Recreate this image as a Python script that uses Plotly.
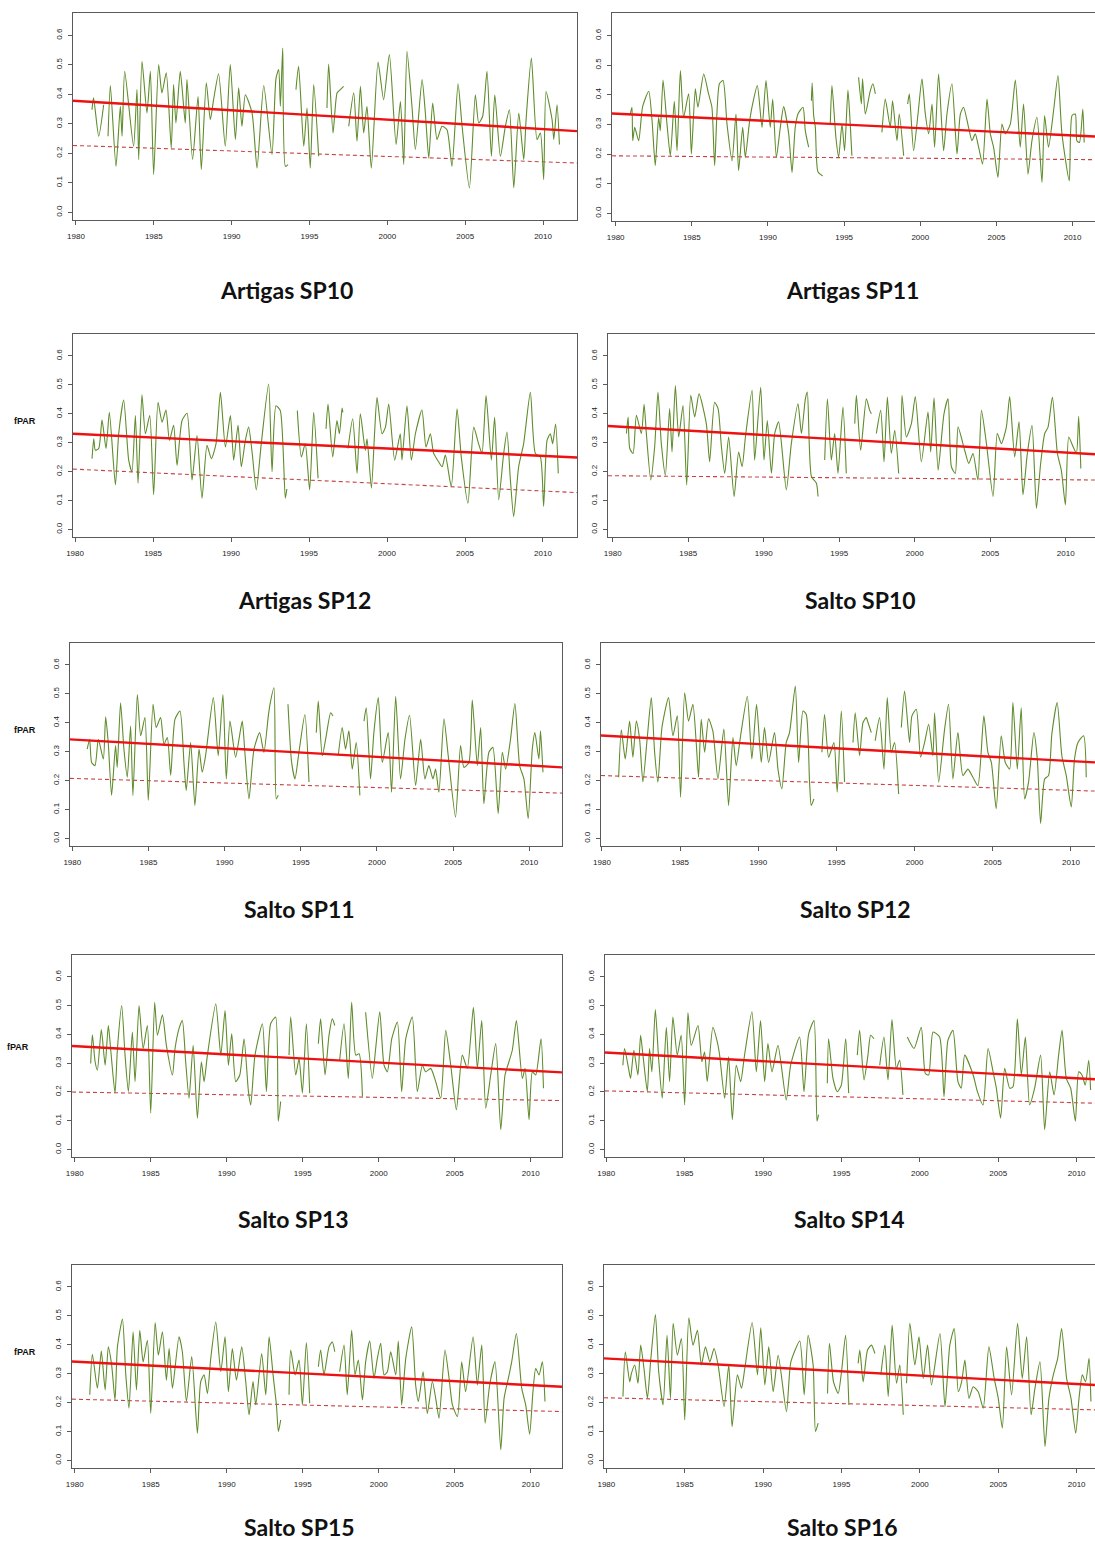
import plotly.graph_objects as go

# ---------------- data ----------------
titles = ["Artigas SP10", "Artigas SP11", "Artigas SP12", "Salto SP10", "Salto SP11",
          "Salto SP12", "Salto SP13", "Salto SP14", "Salto SP15", "Salto SP16"]
x_tick_years = [1980, 1985, 1990, 1995, 2000, 2005, 2010]
y_tick_values = [0.0, 0.1, 0.2, 0.3, 0.4, 0.5, 0.6]
y_tick_labels = ["0.0", "0.1", "0.2", "0.3", "0.4", "0.5", "0.6"]
y_label = "fPAR"

# linear trends (solid) and lower reference trend (dashed), value at 1980 and 2012
trend_solid_1980 = [0.378, 0.3364, 0.3305, 0.357, 0.3423, 0.3562, 0.359, 0.3367, 0.3416, 0.3526]
trend_solid_2012 = [0.276, 0.2577, 0.2495, 0.260, 0.2463, 0.2617, 0.2681, 0.2416, 0.2552, 0.2585]
trend_dash_1980 = [0.2265, 0.1939, 0.2085, 0.1859, 0.2077, 0.2176, 0.1997, 0.2038, 0.2118, 0.2168]
trend_dash_2012 = [0.1675, 0.1808, 0.128, 0.171, 0.1571, 0.1632, 0.1701, 0.1598, 0.1692, 0.1739]

p1_year = [1981.03, 1981.13, 1981.46, 1981.78, None, 1982.06, 1982.21, 1982.57, 1982.85, 1982.96, 1983.13, 1983.70, 1983.92, 1984.03, 1984.24, 1984.56, 1984.78, 1984.99, 1985.31, 1985.52, 1985.80, 1986.12, 1986.27, 1986.42, 1986.70, 1987.02, 1987.13, 1987.49, 1987.84, 1988.05, 1988.37, 1988.63, 1988.84, 1989.16, 1989.59, 1989.91, 1990.24, 1990.45, 1990.66, 1990.88, 1991.31, 1991.63, 1992.06, 1992.59, 1992.85, 1993.02, 1993.13, 1993.28, 1993.45, 1993.62, None, 1994.13, 1994.30, 1994.63, 1994.84, 1995.05, 1995.27, 1995.59, None, 1996.12, 1996.23, 1996.51, 1996.77, 1996.98, 1997.19, None, 1997.52, 1997.84, 1998.05, 1998.27, 1998.48, 1998.69, 1998.97, 1999.40, 1999.76, 2000.13, 2000.56, 2000.84, 2001.05, 2001.26, 2001.58, 2001.80, 2002.23, 2002.44, 2002.66, 2002.91, 2003.19, 2003.51, 2003.83, 2004.15, 2004.54, 2004.80, 2005.27, 2005.65, 2005.87, 2006.12, 2006.40, 2006.68, 2006.90, 2007.26, 2007.58, 2007.84, 2008.12, 2008.44, 2008.76, 2008.91, 2009.25, 2009.61, 2009.83, 2010.04, 2010.19, 2010.58, 2010.69, 2010.90, 2011.05]
p1_fpar = [0.348, 0.388, 0.258, 0.365, None, 0.258, 0.430, 0.156, 0.360, 0.258, 0.478, 0.224, 0.416, 0.179, 0.512, 0.337, 0.478, 0.128, 0.501, 0.405, 0.473, 0.218, 0.433, 0.303, 0.478, 0.303, 0.450, 0.179, 0.393, 0.145, 0.439, 0.314, 0.382, 0.470, 0.224, 0.501, 0.247, 0.422, 0.292, 0.399, 0.337, 0.150, 0.430, 0.196, 0.455, 0.484, 0.360, 0.557, 0.156, 0.162, None, 0.416, 0.495, 0.224, 0.354, 0.150, 0.433, 0.190, None, 0.354, 0.503, 0.269, 0.405, 0.416, 0.427, None, 0.292, 0.405, 0.241, 0.427, 0.269, 0.360, 0.150, 0.510, 0.382, 0.535, 0.230, 0.376, 0.162, 0.546, 0.360, 0.213, 0.450, 0.337, 0.184, 0.371, 0.247, 0.292, 0.280, 0.156, 0.436, 0.292, 0.083, 0.399, 0.303, 0.326, 0.478, 0.190, 0.399, 0.190, 0.292, 0.348, 0.083, 0.337, 0.179, 0.314, 0.523, 0.247, 0.269, 0.111, 0.410, 0.314, 0.247, 0.365, 0.230]

p2_year = [1980.96, 1981.07, 1981.12, 1981.25, 1981.51, 1981.77, 1982.17, 1982.39, 1982.60, 1982.82, 1982.93, 1983.11, 1983.37, 1983.59, 1983.85, 1984.03, 1984.25, 1984.46, 1984.79, 1984.97, 1985.23, 1985.40, 1985.78, 1986.10, 1986.32, 1986.50, 1986.81, 1987.05, 1987.31, 1987.64, 1987.90, 1988.07, 1988.34, 1988.51, 1988.77, 1988.95, 1989.30, 1989.61, 1989.87, 1990.15, 1990.31, 1990.55, 1990.81, 1991.03, 1991.36, 1991.58, 1991.79, 1991.97, 1992.30, 1992.45, 1992.67, None, 1992.85, 1992.90, 1993.00, 1993.11, 1993.28, 1993.59, None, 1994.09, 1994.20, 1994.46, 1994.64, 1994.86, 1995.03, 1995.25, 1995.40, 1995.51, None, 1995.95, 1996.13, 1996.21, 1996.39, 1996.72, 1996.89, 1997.05, None, 1997.48, 1997.70, 1998.03, 1998.18, 1998.47, 1998.62, 1998.91, None, 1999.17, 1999.28, 1999.56, 1999.85, 2000.11, 2000.33, 2000.55, 2000.77, 2000.94, 2001.20, 2001.53, 2001.75, 2002.08, 2002.41, 2002.63, 2002.84, 2003.17, 2003.39, 2003.61, 2003.83, 2004.09, 2004.38, 2004.60, 2004.81, 2005.10, 2005.36, 2005.58, 2005.91, 2006.24, 2006.56, 2006.78, 2007.07, 2007.33, 2007.66, 2007.99, 2008.16, 2008.42, 2008.75, 2009.04, 2009.30, 2009.78, 2009.96, 2010.18, 2010.28, 2010.45, 2010.67, 2010.76]
p2_fpar = [0.335, 0.358, 0.245, 0.290, 0.245, 0.360, 0.412, 0.313, 0.161, 0.324, 0.279, 0.450, 0.301, 0.194, 0.378, 0.211, 0.482, 0.324, 0.403, 0.200, 0.420, 0.358, 0.470, 0.403, 0.358, 0.161, 0.437, 0.448, 0.301, 0.177, 0.335, 0.144, 0.290, 0.189, 0.301, 0.358, 0.431, 0.290, 0.448, 0.290, 0.386, 0.189, 0.290, 0.360, 0.268, 0.138, 0.290, 0.335, 0.358, 0.279, 0.223, None, 0.380, 0.440, 0.330, 0.290, 0.140, 0.126, None, 0.301, 0.431, 0.256, 0.189, 0.301, 0.211, 0.416, 0.301, 0.194, None, 0.459, 0.369, 0.454, 0.335, 0.414, 0.437, 0.403, None, 0.273, 0.386, 0.290, 0.380, 0.245, 0.335, 0.194, None, 0.369, 0.403, 0.211, 0.335, 0.454, 0.335, 0.268, 0.369, 0.223, 0.470, 0.211, 0.335, 0.437, 0.200, 0.335, 0.358, 0.290, 0.245, 0.268, 0.223, 0.166, 0.386, 0.268, 0.223, 0.121, 0.301, 0.268, 0.301, 0.450, 0.223, 0.369, 0.132, 0.245, 0.324, 0.104, 0.330, 0.223, 0.346, 0.465, 0.268, 0.110, 0.330, 0.335, 0.245, 0.239, 0.352, 0.239]

p3_year = [1981.09, 1981.20, 1981.30, 1981.52, 1981.73, 1981.99, 1982.20, 1982.59, 1982.80, 1983.12, 1983.44, 1983.65, 1983.87, 1984.04, 1984.29, 1984.51, 1984.79, 1985.04, 1985.32, 1985.58, 1985.83, 1986.05, 1986.32, 1986.54, 1986.86, 1987.18, 1987.50, 1987.82, 1988.14, 1988.46, 1988.74, 1989.04, 1989.32, 1989.64, 1989.96, 1990.17, 1990.45, 1990.66, 1990.92, 1991.13, 1991.35, 1991.62, 1991.94, 1992.41, 1992.63, 1992.88, 1993.16, 1993.48, 1993.58, None, 1994.25, 1994.51, 1994.76, 1995.04, 1995.30, 1995.58, None, 1996.09, 1996.22, 1996.52, 1996.79, 1996.95, 1997.12, 1997.17, None, 1997.50, 1997.80, 1998.08, 1998.29, 1998.61, 1998.72, 1999.00, 1999.21, 1999.36, 1999.68, 1999.90, 2000.11, 2000.49, 2000.85, 2000.96, 2001.28, 2001.56, 2001.82, 2002.24, 2002.50, 2002.78, 2002.99, 2003.31, 2003.53, 2003.74, 2004.12, 2004.49, 2004.76, 2005.19, 2005.56, 2005.87, 2006.09, 2006.35, 2006.69, 2006.90, 2007.16, 2007.48, 2007.69, 2007.91, 2008.12, 2008.44, 2008.76, 2009.19, 2009.51, 2009.83, 2010.04, 2010.26, 2010.47, 2010.62, 2010.81, 2010.98]
p3_fpar = [0.245, 0.314, 0.274, 0.280, 0.379, 0.280, 0.405, 0.154, 0.331, 0.448, 0.240, 0.200, 0.394, 0.160, 0.466, 0.331, 0.394, 0.120, 0.440, 0.371, 0.413, 0.308, 0.360, 0.222, 0.377, 0.402, 0.171, 0.325, 0.108, 0.291, 0.245, 0.297, 0.474, 0.285, 0.394, 0.240, 0.360, 0.217, 0.308, 0.354, 0.268, 0.137, 0.297, 0.503, 0.200, 0.428, 0.411, 0.108, 0.140, None, 0.411, 0.251, 0.297, 0.137, 0.405, 0.177, None, 0.348, 0.434, 0.251, 0.377, 0.331, 0.420, 0.405, None, 0.280, 0.383, 0.194, 0.400, 0.274, 0.314, 0.143, 0.340, 0.457, 0.331, 0.354, 0.434, 0.240, 0.331, 0.240, 0.428, 0.240, 0.331, 0.413, 0.285, 0.331, 0.263, 0.234, 0.217, 0.257, 0.148, 0.417, 0.251, 0.091, 0.354, 0.297, 0.263, 0.463, 0.240, 0.388, 0.103, 0.263, 0.337, 0.171, 0.045, 0.217, 0.297, 0.474, 0.263, 0.251, 0.080, 0.308, 0.331, 0.297, 0.365, 0.194]

p4_year = [1980.91, 1981.02, 1981.13, 1981.35, 1981.57, 1981.90, 1982.08, 1982.23, 1982.52, 1982.78, 1983.00, 1983.22, 1983.49, 1983.77, 1983.93, 1984.15, 1984.37, 1984.66, 1984.90, 1985.17, 1985.43, 1985.72, 1986.20, 1986.42, 1986.75, 1986.98, 1987.20, 1987.42, 1987.68, 1988.04, 1988.34, 1988.57, 1988.79, 1989.23, 1989.40, 1989.80, 1990.02, 1990.24, 1990.51, 1990.73, 1990.99, 1991.50, 1991.83, 1992.27, 1992.50, 1992.76, 1992.89, 1993.16, 1993.49, 1993.60, None, 1994.04, 1994.22, 1994.48, 1994.70, 1994.92, 1995.25, 1995.47, None, 1996.03, 1996.14, 1996.42, 1996.80, 1997.02, 1997.13, None, 1997.46, 1997.75, 1997.97, 1998.19, 1998.45, 1998.68, 1998.94, None, 1999.10, 1999.16, 1999.45, 1999.78, 2000.04, 2000.44, 2000.88, 2001.06, 2001.28, 2001.55, 2001.94, 2002.21, 2002.43, 2002.69, 2002.87, 2003.31, 2003.58, 2003.86, 2004.19, 2004.42, 2004.75, 2005.19, 2005.47, 2005.74, 2006.07, 2006.29, 2006.62, 2006.91, 2007.17, 2007.46, 2007.77, 2008.06, 2008.34, 2008.61, 2008.83, 2009.12, 2009.45, 2009.71, 2009.98, 2010.20, 2010.49, 2010.71, 2010.86, 2011.00]
p4_fpar = [0.332, 0.389, 0.280, 0.263, 0.395, 0.332, 0.433, 0.332, 0.171, 0.286, 0.475, 0.297, 0.188, 0.418, 0.268, 0.498, 0.320, 0.429, 0.154, 0.464, 0.389, 0.469, 0.366, 0.234, 0.440, 0.418, 0.286, 0.194, 0.320, 0.114, 0.268, 0.217, 0.320, 0.481, 0.240, 0.492, 0.240, 0.377, 0.194, 0.332, 0.372, 0.137, 0.297, 0.435, 0.332, 0.452, 0.475, 0.183, 0.160, 0.114, None, 0.240, 0.452, 0.240, 0.332, 0.194, 0.423, 0.194, None, 0.366, 0.464, 0.274, 0.452, 0.412, 0.400, None, 0.332, 0.412, 0.234, 0.458, 0.263, 0.343, 0.194, None, 0.300, 0.464, 0.320, 0.366, 0.460, 0.234, 0.406, 0.268, 0.455, 0.205, 0.400, 0.452, 0.217, 0.194, 0.354, 0.274, 0.228, 0.263, 0.171, 0.412, 0.297, 0.114, 0.332, 0.297, 0.354, 0.460, 0.251, 0.372, 0.120, 0.263, 0.360, 0.073, 0.228, 0.332, 0.354, 0.458, 0.263, 0.205, 0.085, 0.320, 0.286, 0.263, 0.391, 0.211]

p5_year = [1980.98, 1981.14, 1981.27, 1981.49, 1981.71, 1982.04, 1982.19, 1982.36, 1982.58, 1982.84, 1982.95, 1983.17, 1983.39, 1983.61, 1983.83, 1983.98, 1984.27, 1984.49, 1984.77, 1984.99, 1985.30, 1985.51, 1985.80, 1986.02, 1986.24, 1986.46, 1986.74, 1987.07, 1987.33, 1987.48, 1987.77, 1988.05, 1988.32, 1988.53, 1988.75, 1989.26, 1989.58, 1989.89, 1990.11, 1990.35, 1990.72, 1990.98, 1991.16, 1991.33, 1991.60, 1991.93, 1992.30, 1992.58, 1992.87, 1992.98, 1993.24, 1993.39, 1993.52, None, 1994.16, 1994.40, 1994.62, 1994.88, 1995.27, 1995.54, None, 1996.02, 1996.15, 1996.41, 1996.67, 1996.96, 1997.11, None, 1997.46, 1997.72, 1997.94, 1998.16, 1998.38, 1998.64, 1998.88, None, 1999.15, 1999.30, 1999.58, 1999.80, 2000.09, 2000.35, 2000.74, 2000.96, 2001.23, 2001.55, 2001.84, 2002.14, 2002.54, 2002.87, 2003.15, 2003.41, 2003.68, 2003.85, 2004.07, 2004.40, 2004.68, 2005.16, 2005.49, 2005.71, 2006.04, 2006.26, 2006.59, 2006.81, 2007.02, 2007.35, 2007.61, 2007.96, 2008.23, 2008.45, 2008.77, 2009.06, 2009.37, 2009.65, 2009.93, 2010.20, 2010.37, 2010.63, 2010.74, 2010.90]
p5_fpar = [0.309, 0.343, 0.263, 0.252, 0.343, 0.275, 0.421, 0.332, 0.149, 0.321, 0.246, 0.469, 0.309, 0.212, 0.389, 0.149, 0.498, 0.355, 0.418, 0.132, 0.464, 0.384, 0.418, 0.326, 0.349, 0.218, 0.412, 0.441, 0.263, 0.166, 0.332, 0.114, 0.309, 0.229, 0.286, 0.487, 0.286, 0.498, 0.206, 0.406, 0.281, 0.355, 0.406, 0.298, 0.137, 0.309, 0.366, 0.298, 0.424, 0.464, 0.521, 0.137, 0.150, None, 0.464, 0.263, 0.206, 0.298, 0.429, 0.195, None, 0.366, 0.475, 0.286, 0.355, 0.435, 0.424, None, 0.286, 0.384, 0.309, 0.372, 0.240, 0.332, 0.149, None, 0.406, 0.452, 0.206, 0.366, 0.487, 0.263, 0.366, 0.160, 0.492, 0.206, 0.343, 0.426, 0.183, 0.343, 0.206, 0.252, 0.206, 0.240, 0.160, 0.414, 0.286, 0.074, 0.321, 0.246, 0.263, 0.479, 0.252, 0.384, 0.120, 0.298, 0.315, 0.086, 0.298, 0.240, 0.343, 0.467, 0.252, 0.206, 0.069, 0.309, 0.366, 0.275, 0.372, 0.229]

p6_year = [1981.07, 1981.24, 1981.49, 1981.77, 1981.98, 1982.20, 1982.41, 1982.62, 1982.90, 1983.16, 1983.37, 1983.58, 1983.84, 1984.26, 1984.54, 1984.82, 1985.03, 1985.29, 1985.54, 1985.82, 1986.03, 1986.18, 1986.35, 1986.57, 1986.82, 1987.10, 1987.42, 1987.80, 1988.10, 1988.38, 1988.59, 1988.87, 1989.30, 1989.59, 1989.89, 1990.19, 1990.40, 1990.66, 1991.04, 1991.26, 1991.51, 1991.79, 1992.00, 1992.37, 1992.58, 1992.86, 1993.07, 1993.28, 1993.39, 1993.56, None, 1994.07, 1994.24, 1994.50, 1994.84, 1995.05, 1995.31, 1995.52, None, 1996.06, 1996.20, 1996.48, 1996.70, 1996.91, 1997.02, 1997.23, None, 1997.48, 1997.76, 1998.04, 1998.25, 1998.51, 1998.72, 1998.98, None, 1999.15, 1999.36, 1999.68, 1999.83, 2000.11, 2000.38, 2000.64, 2000.90, 2001.17, 2001.28, 2001.54, 2001.92, 2002.17, 2002.45, 2002.77, 2003.09, 2003.41, 2003.73, 2004.05, 2004.43, 2004.69, 2004.91, 2005.22, 2005.54, 2005.80, 2006.08, 2006.29, 2006.57, 2006.82, 2007.04, 2007.29, 2007.63, 2007.85, 2008.06, 2008.32, 2008.57, 2008.78, 2009.12, 2009.42, 2009.70, 2010.02, 2010.23, 2010.45, 2010.81, 2010.98]
p6_fpar = [0.212, 0.376, 0.275, 0.406, 0.281, 0.406, 0.343, 0.195, 0.349, 0.487, 0.298, 0.195, 0.384, 0.487, 0.355, 0.424, 0.143, 0.504, 0.406, 0.464, 0.332, 0.212, 0.412, 0.298, 0.414, 0.370, 0.206, 0.378, 0.114, 0.349, 0.252, 0.355, 0.492, 0.275, 0.464, 0.263, 0.384, 0.263, 0.366, 0.240, 0.172, 0.332, 0.366, 0.527, 0.263, 0.441, 0.429, 0.195, 0.114, 0.137, None, 0.298, 0.429, 0.281, 0.332, 0.160, 0.441, 0.195, None, 0.332, 0.435, 0.286, 0.401, 0.418, 0.401, 0.366, None, 0.338, 0.418, 0.240, 0.487, 0.298, 0.332, 0.154, None, 0.384, 0.510, 0.332, 0.424, 0.447, 0.281, 0.332, 0.395, 0.286, 0.435, 0.195, 0.378, 0.464, 0.206, 0.366, 0.218, 0.240, 0.212, 0.183, 0.424, 0.298, 0.263, 0.103, 0.355, 0.263, 0.240, 0.470, 0.240, 0.452, 0.137, 0.195, 0.366, 0.275, 0.052, 0.206, 0.218, 0.361, 0.470, 0.286, 0.218, 0.109, 0.275, 0.332, 0.355, 0.212]

p7_year = [1981.05, 1981.16, 1981.34, 1981.49, 1981.75, 1982.00, 1982.21, 1982.37, 1982.65, 1982.81, 1983.09, 1983.31, 1983.53, 1983.79, 1983.97, 1984.23, 1984.50, 1984.78, 1985.00, 1985.26, 1985.44, 1985.77, 1986.03, 1986.43, 1986.60, 1986.86, 1987.08, 1987.30, 1987.52, 1987.79, 1988.07, 1988.33, 1988.51, 1988.73, 1989.28, 1989.61, 1989.89, 1990.11, 1990.33, 1990.59, 1990.86, 1991.14, 1991.43, 1991.58, 1991.86, 1992.35, 1992.61, 1992.89, 1993.22, 1993.39, 1993.55, None, 1994.10, 1994.21, 1994.54, 1994.76, 1994.98, 1995.24, 1995.46, None, 1996.03, 1996.18, 1996.47, 1996.73, 1996.95, 1997.11, None, 1997.43, 1997.72, 1998.00, 1998.22, 1998.49, 1998.71, 1998.93, None, 1999.14, 1999.58, 1999.80, 2000.07, 2000.35, 2000.57, 2000.86, 2001.23, 2001.51, 2001.78, 2002.21, 2002.54, 2002.87, 2003.09, 2003.42, 2003.75, 2004.08, 2004.41, 2004.74, 2005.11, 2005.50, 2005.83, 2006.23, 2006.49, 2006.78, 2007.04, 2007.37, 2007.70, 2008.03, 2008.31, 2008.57, 2008.79, 2009.06, 2009.45, 2009.63, 2009.89, 2010.11, 2010.33, 2010.68, 2010.84]
p7_fpar = [0.299, 0.399, 0.305, 0.276, 0.417, 0.293, 0.431, 0.345, 0.196, 0.351, 0.500, 0.328, 0.201, 0.408, 0.236, 0.500, 0.351, 0.431, 0.127, 0.512, 0.397, 0.468, 0.362, 0.259, 0.351, 0.420, 0.448, 0.305, 0.178, 0.362, 0.109, 0.305, 0.236, 0.328, 0.506, 0.328, 0.483, 0.293, 0.402, 0.236, 0.259, 0.385, 0.201, 0.155, 0.328, 0.437, 0.201, 0.437, 0.460, 0.098, 0.167, None, 0.328, 0.460, 0.259, 0.316, 0.196, 0.437, 0.196, None, 0.368, 0.454, 0.259, 0.397, 0.454, 0.431, None, 0.310, 0.437, 0.247, 0.512, 0.328, 0.333, 0.184, None, 0.477, 0.247, 0.351, 0.479, 0.293, 0.270, 0.385, 0.443, 0.201, 0.385, 0.460, 0.201, 0.293, 0.270, 0.282, 0.236, 0.178, 0.414, 0.293, 0.138, 0.328, 0.282, 0.494, 0.282, 0.448, 0.144, 0.259, 0.368, 0.069, 0.259, 0.305, 0.345, 0.448, 0.247, 0.282, 0.104, 0.270, 0.259, 0.385, 0.213]

p8_year = [1981.06, 1981.17, 1981.42, 1981.55, 1981.76, 1982.02, 1982.19, 1982.34, 1982.62, 1982.76, 1982.91, 1983.13, 1983.34, 1983.57, 1983.83, 1984.04, 1984.25, 1984.53, 1984.78, 1985.00, 1985.21, 1985.42, 1985.85, 1986.10, 1986.27, 1986.44, 1986.80, 1987.08, 1987.23, 1987.55, 1987.80, 1988.04, 1988.29, 1988.57, 1988.82, 1989.29, 1989.57, 1989.84, 1990.10, 1990.31, 1990.57, 1990.95, 1991.48, 1991.76, 1992.33, 1992.61, 1992.91, 1993.25, 1993.44, 1993.54, None, 1994.10, 1994.18, 1994.46, 1994.73, 1994.99, 1995.27, 1995.46, None, 1996.01, 1996.16, 1996.44, 1996.69, 1996.86, 1997.07, None, 1997.44, 1997.71, 1997.97, 1998.22, 1998.50, 1998.71, 1998.92, None, 1999.20, 1999.63, 2000.09, 2000.35, 2000.56, 2000.84, 2001.26, 2001.54, 2001.79, 2002.11, 2002.43, 2002.64, 2002.86, 2003.40, 2003.67, 2004.03, 2004.35, 2004.67, 2004.88, 2005.15, 2005.41, 2005.73, 2005.94, 2006.22, 2006.47, 2006.73, 2007.00, 2007.32, 2007.70, 2007.96, 2008.28, 2008.56, 2008.85, 2009.07, 2009.34, 2009.62, 2009.92, 2010.13, 2010.34, 2010.55, 2010.77, 2010.89]
p8_fpar = [0.293, 0.351, 0.282, 0.247, 0.345, 0.259, 0.397, 0.328, 0.201, 0.351, 0.270, 0.486, 0.316, 0.178, 0.425, 0.236, 0.460, 0.328, 0.397, 0.155, 0.475, 0.362, 0.431, 0.305, 0.339, 0.236, 0.425, 0.374, 0.328, 0.178, 0.322, 0.104, 0.293, 0.236, 0.328, 0.479, 0.270, 0.448, 0.236, 0.368, 0.270, 0.362, 0.172, 0.293, 0.391, 0.201, 0.402, 0.448, 0.098, 0.121, None, 0.230, 0.385, 0.247, 0.201, 0.224, 0.385, 0.196, None, 0.328, 0.414, 0.242, 0.328, 0.397, 0.385, None, 0.293, 0.391, 0.242, 0.452, 0.282, 0.310, 0.190, None, 0.391, 0.351, 0.425, 0.264, 0.259, 0.408, 0.391, 0.184, 0.379, 0.414, 0.236, 0.213, 0.328, 0.259, 0.201, 0.155, 0.351, 0.270, 0.213, 0.109, 0.282, 0.213, 0.218, 0.454, 0.259, 0.391, 0.155, 0.213, 0.328, 0.069, 0.270, 0.190, 0.328, 0.414, 0.247, 0.213, 0.098, 0.270, 0.259, 0.224, 0.310, 0.207]

p9_year = [1980.99, 1981.16, 1981.49, 1981.75, 1982.00, 1982.21, 1982.43, 1982.65, 1982.81, 1983.14, 1983.36, 1983.57, 1983.84, 1984.06, 1984.28, 1984.50, 1984.78, 1985.00, 1985.29, 1985.50, 1985.77, 1986.03, 1986.21, 1986.43, 1986.86, 1987.08, 1987.35, 1987.70, 1988.07, 1988.29, 1988.51, 1988.73, 1988.95, 1989.28, 1989.61, 1989.89, 1990.11, 1990.37, 1990.64, 1990.99, 1991.25, 1991.47, 1991.73, 1991.91, 1992.30, 1992.57, 1992.79, 1993.05, 1993.27, 1993.40, 1993.55, None, 1994.10, 1994.21, 1994.50, 1994.76, 1994.98, 1995.24, 1995.46, None, 1996.03, 1996.18, 1996.40, 1996.73, 1996.95, 1997.11, None, 1997.43, 1997.72, 1997.93, 1998.22, 1998.44, 1998.66, 1998.93, 1999.14, 1999.41, 1999.69, 1999.91, 2000.13, 2000.35, 2000.57, 2000.79, 2001.12, 2001.29, 2001.51, 2001.78, 2002.17, 2002.43, 2002.61, 2002.92, 2003.20, 2003.53, 2003.75, 2003.97, 2004.36, 2004.63, 2004.85, 2005.18, 2005.46, 2005.72, 2006.21, 2006.49, 2006.78, 2007.00, 2007.30, 2007.65, 2008.03, 2008.25, 2008.53, 2008.75, 2009.06, 2009.41, 2009.67, 2009.93, 2010.15, 2010.33, 2010.55, 2010.77, 2010.94]
p9_fpar = [0.227, 0.367, 0.250, 0.378, 0.244, 0.393, 0.330, 0.209, 0.393, 0.489, 0.296, 0.181, 0.445, 0.244, 0.450, 0.341, 0.416, 0.163, 0.477, 0.364, 0.445, 0.278, 0.387, 0.250, 0.428, 0.376, 0.204, 0.359, 0.094, 0.273, 0.296, 0.232, 0.353, 0.479, 0.307, 0.428, 0.238, 0.387, 0.278, 0.393, 0.273, 0.158, 0.273, 0.192, 0.370, 0.227, 0.428, 0.296, 0.192, 0.100, 0.140, None, 0.227, 0.382, 0.296, 0.347, 0.192, 0.408, 0.198, None, 0.324, 0.382, 0.296, 0.393, 0.410, 0.376, None, 0.307, 0.399, 0.227, 0.450, 0.296, 0.347, 0.209, 0.341, 0.413, 0.284, 0.353, 0.405, 0.296, 0.307, 0.376, 0.296, 0.413, 0.192, 0.353, 0.462, 0.261, 0.204, 0.307, 0.163, 0.273, 0.215, 0.146, 0.382, 0.284, 0.192, 0.152, 0.341, 0.238, 0.428, 0.261, 0.399, 0.129, 0.261, 0.341, 0.037, 0.215, 0.284, 0.341, 0.439, 0.250, 0.192, 0.091, 0.238, 0.318, 0.296, 0.341, 0.204]

p10_year = [1981.06, 1981.21, 1981.49, 1981.60, 1981.81, 1982.02, 1982.19, 1982.40, 1982.62, 1982.83, 1983.13, 1983.34, 1983.62, 1983.87, 1984.09, 1984.26, 1984.53, 1984.79, 1985.00, 1985.26, 1985.53, 1985.81, 1986.06, 1986.32, 1986.60, 1986.87, 1987.13, 1987.51, 1987.81, 1988.02, 1988.36, 1988.62, 1988.83, 1989.30, 1989.64, 1989.85, 1990.11, 1990.36, 1990.64, 1990.96, 1991.49, 1991.77, 1992.34, 1992.62, 1992.87, 1993.19, 1993.34, 1993.51, None, 1994.11, 1994.23, 1994.49, 1994.79, 1995.00, 1995.26, 1995.47, None, 1996.06, 1996.17, 1996.38, 1996.66, 1996.91, 1997.13, None, 1997.51, 1997.77, 1997.98, 1998.23, 1998.51, 1998.72, 1998.94, None, 1999.15, 1999.36, 1999.68, 1999.94, 2000.21, 2000.49, 2000.74, 2001.28, 2001.60, 2001.91, 2002.19, 2002.45, 2002.66, 2002.87, 2003.13, 2003.40, 2003.72, 2004.04, 2004.40, 2004.74, 2005.00, 2005.26, 2005.53, 2005.85, 2006.23, 2006.53, 2006.81, 2007.09, 2007.34, 2007.66, 2007.98, 2008.23, 2008.51, 2008.79, 2009.04, 2009.36, 2009.64, 2009.94, 2010.15, 2010.36, 2010.57, 2010.79, 2010.91]
p10_fpar = [0.221, 0.376, 0.272, 0.301, 0.330, 0.267, 0.399, 0.318, 0.215, 0.347, 0.505, 0.307, 0.192, 0.433, 0.215, 0.474, 0.364, 0.422, 0.140, 0.493, 0.399, 0.450, 0.330, 0.393, 0.341, 0.387, 0.330, 0.186, 0.330, 0.117, 0.296, 0.250, 0.318, 0.477, 0.296, 0.459, 0.261, 0.393, 0.238, 0.364, 0.169, 0.341, 0.413, 0.227, 0.433, 0.330, 0.100, 0.129, None, 0.232, 0.405, 0.272, 0.232, 0.307, 0.433, 0.192, None, 0.336, 0.382, 0.272, 0.382, 0.399, 0.370, None, 0.296, 0.399, 0.221, 0.468, 0.267, 0.330, 0.158, None, 0.267, 0.474, 0.330, 0.428, 0.284, 0.399, 0.261, 0.439, 0.186, 0.399, 0.456, 0.238, 0.272, 0.347, 0.215, 0.255, 0.238, 0.181, 0.393, 0.284, 0.215, 0.112, 0.393, 0.227, 0.474, 0.284, 0.428, 0.158, 0.250, 0.341, 0.048, 0.215, 0.296, 0.353, 0.456, 0.284, 0.215, 0.094, 0.215, 0.296, 0.272, 0.353, 0.204]

series_year = [p1_year, p2_year, p3_year, p4_year, p5_year, p6_year, p7_year, p8_year, p9_year, p10_year]
series_fpar = [p1_fpar, p2_fpar, p3_fpar, p4_fpar, p5_fpar, p6_fpar, p7_fpar, p8_fpar, p9_fpar, p10_fpar]

# ---------------- layout (pixels) ----------------
W, H = 1095, 1543
# left, right, top, bottom of each plot box
boxes = [(73, 577, 13, 220), (612, 1095, 13, 221), (73, 577, 334, 537), (608, 1095, 334, 537),
         (70, 562, 643, 846), (601, 1095, 643, 846), (72, 562, 955, 1157), (605, 1095, 955, 1157),
         (72, 562, 1265, 1468), (604, 1095, 1265, 1468)]
x_ranges = [(1979.81, 2012.18), (1979.76, 2011.47), (1979.87, 2012.18), (1979.69, 2011.94),
            (1979.85, 2012.15), (1979.94, 2011.54), (1979.82, 2012.06), (1979.92, 2011.17),
            (1979.82, 2012.06), (1979.85, 2011.17)]
y_range = [-0.026, 0.676]
title_pos = [(286, 290), (853, 290), (304, 600), (860, 600), (299, 909), (855, 909),
             (293, 1219), (849, 1219), (299, 1527), (842, 1527)]
ylabel_pos = [(25, 421), (25, 730), (18, 1047), (25, 1352)]

GREEN = "#5f8c2c"
RED = "#ee1111"
DASH_RED = "#c84343"
AXIS = "#5a5a5a"
TICKFONT = dict(family="Liberation Sans, Arial, sans-serif", size=8, color="#222")

fig = go.Figure()
layout = dict(width=W, height=H, margin=dict(l=0, r=0, t=0, b=0, autoexpand=False),
              paper_bgcolor="white", plot_bgcolor="white", showlegend=False)

for i in range(10):
    n = "" if i == 0 else str(i + 1)
    xa, ya = "x" + n, "y" + n
    left, right, top, bottom = boxes[i]
    x0, x1 = x_ranges[i]
    is_right = right >= W
    layout["xaxis" + n] = dict(
        domain=[left / W, right / W], range=[x0, x1], anchor=ya, automargin=False,
        showline=True, linecolor=AXIS, linewidth=1, mirror=True,
        ticks="outside", ticklen=4, tickcolor=AXIS, tickwidth=1,
        tickvals=x_tick_years, ticktext=[str(v) for v in x_tick_years],
        tickfont=TICKFONT, ticklabelstandoff=4,
        showgrid=False, zeroline=False)
    layout["yaxis" + n] = dict(
        domain=[1 - bottom / H, 1 - top / H], range=y_range, anchor=xa, automargin=False,
        showline=True, linecolor=AXIS, linewidth=1, mirror=(not is_right),
        ticks="outside", ticklen=4, tickcolor=AXIS, tickwidth=1,
        tickvals=y_tick_values, ticktext=y_tick_labels, tickangle=-90,
        tickfont=TICKFONT, ticklabelstandoff=3,
        showgrid=False, zeroline=False)

    def trend(v80, v12, x):
        return v80 + (v12 - v80) * (x - 1980) / 32.0

    fig.add_trace(go.Scatter(
        x=[x0, x1], y=[trend(trend_dash_1980[i], trend_dash_2012[i], x0),
                       trend(trend_dash_1980[i], trend_dash_2012[i], x1)],
        mode="lines", line=dict(color=DASH_RED, width=1.1, dash="4px,3px"),
        xaxis=xa, yaxis=ya, hoverinfo="skip"))
    fig.add_trace(go.Scatter(
        x=series_year[i], y=series_fpar[i], mode="lines",
        line=dict(color=GREEN, width=1.1, shape="spline", smoothing=0.6), connectgaps=False,
        xaxis=xa, yaxis=ya))
    fig.add_trace(go.Scatter(
        x=[x0, x1], y=[trend(trend_solid_1980[i], trend_solid_2012[i], x0),
                       trend(trend_solid_1980[i], trend_solid_2012[i], x1)],
        mode="lines", line=dict(color=RED, width=2.4),
        xaxis=xa, yaxis=ya, hoverinfo="skip"))

annotations = []
for t, (px, py) in zip(titles, title_pos):
    annotations.append(dict(
        text="<b>" + t + "</b>", x=px / W, y=1 - py / H, xref="paper", yref="paper",
        xanchor="center", yanchor="middle", showarrow=False,
        font=dict(family="Lato, Open Sans, sans-serif", size=23, color="#111")))
for px, py in ylabel_pos:
    annotations.append(dict(
        text="<b>" + y_label + "</b>", x=px / W, y=1 - py / H, xref="paper", yref="paper",
        xanchor="center", yanchor="middle", showarrow=False,
        font=dict(family="Liberation Sans, Arial, sans-serif", size=9, color="#111")))
layout["annotations"] = annotations

fig.update_layout(**layout)
fig.write_html("out.html")
